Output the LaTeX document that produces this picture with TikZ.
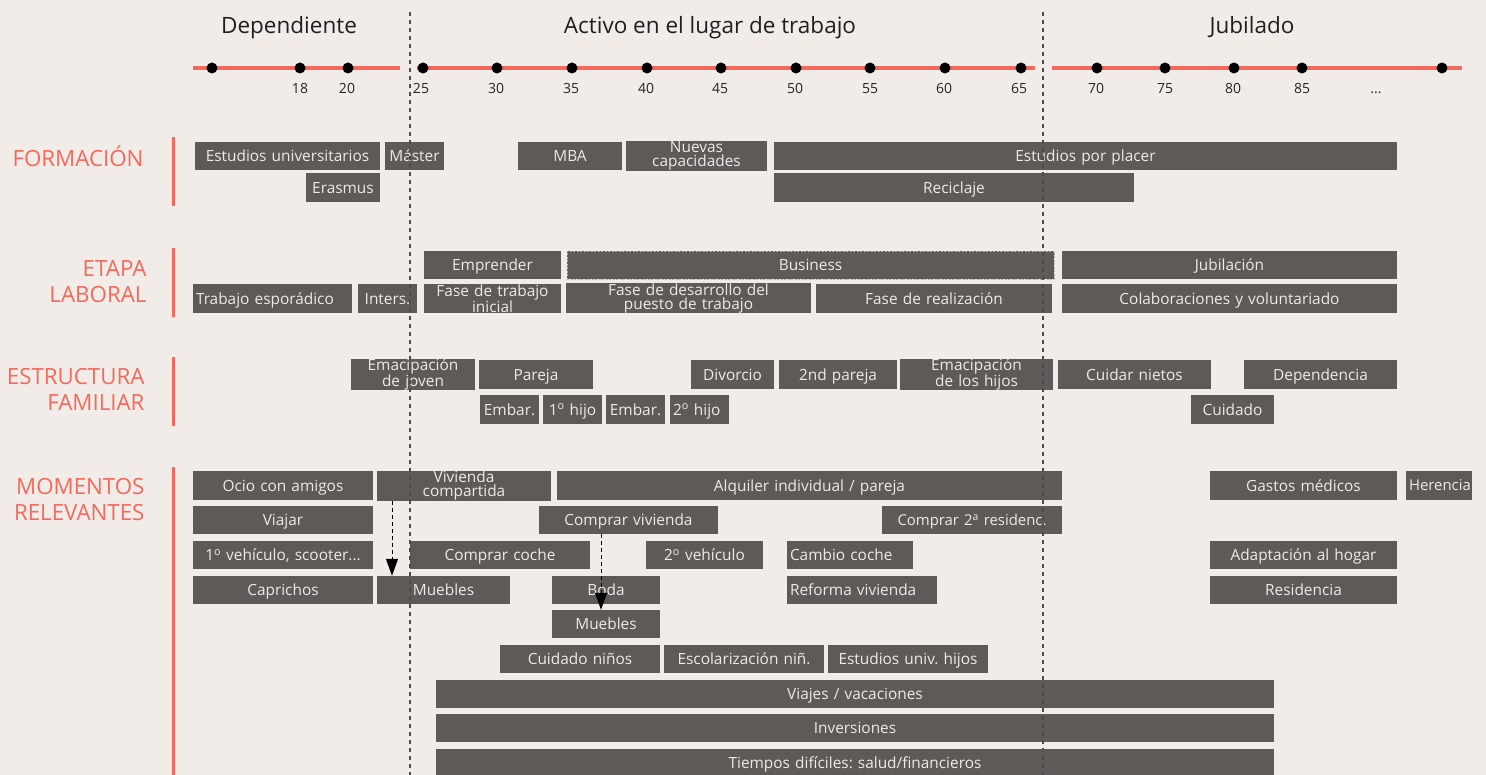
\documentclass[tikz,border=0pt]{standalone}
\usepackage{fontspec}
\setmainfont{Open Sans}
\usetikzlibrary{arrows.meta}
\definecolor{bg}{HTML}{F1ECE8}
\definecolor{boxc}{HTML}{5E5A58}
\definecolor{salmon}{HTML}{F4695B}
\definecolor{boxtxt}{HTML}{EFEAE6}
\frenchspacing
% raised ordinal letter
\newcommand\ordl[1]{\textsuperscript{#1}}
% single-line box: name, x1, y1, x2, y2, text
\newcommand\bx[7][]{%
  \pgfmathsetmacro\bxw{#5-#3-6}\pgfmathsetmacro\bxh{#6-#4}%
  \node[box,text width=\bxw pt,minimum height=\bxh pt,#1] (#2) at ({(#3+#5)/2},{(#4+#6)/2})
    {\raisebox{0pt}[0.72em][0pt]{\mbox{#7}}};}
% two-line box
\newcommand\bxm[7][]{%
  \pgfmathsetmacro\bxw{#5-#3-6}\pgfmathsetmacro\bxh{#6-#4}%
  \node[box,text width=\bxw pt,minimum height=\bxh pt,#1] (#2) at ({(#3+#5)/2},{(#4+#6)/2}) {#7};}
\begin{document}
\begin{tikzpicture}[x=1pt,y=-1pt,
  box/.style={fill=boxc,text=boxtxt,inner xsep=3pt,inner ysep=0pt,align=center,
    font=\fontsize{15.4}{14.6}\selectfont},
  tight/.style={font=\fontsize{14.9}{14.6}\selectfont},
  yr/.style={font=\fontsize{14}{14}\selectfont,text=black!85,anchor=base},
  hd/.style={font=\fontsize{22.5}{22.5}\selectfont,text=black!88,anchor=base},
  sec/.style={font=\fontsize{22.3}{26}\selectfont,text=salmon,align=right,anchor=east},
  dot/.style={circle,fill=black,inner sep=0pt,minimum size=11pt},
  tl/.style={salmon,line width=4pt},
  bar/.style={salmon,line width=3pt},
  sep/.style={black!70,line width=1.3pt,dash pattern=on 4pt off 4pt},
  link/.style={black,line width=1pt,dash pattern=on 4pt off 3pt,-{Triangle[width=12pt,length=17pt]}}]
\fill[bg] (0,0) rectangle (1486,775);
\useasboundingbox (0,0) rectangle (1486,775);

% phase headings
\node[hd] (hdep) at (289,34) {Dependiente};
\node[hd] (hact) at (710,34) {Activo en el lugar de trabajo};
\node[hd] (hjub) at (1252,34) {Jubilado};

% age axis
\coordinate (s1a) at (193,68); \coordinate (s1b) at (400,68);
\coordinate (s2a) at (417,68); \coordinate (s2b) at (1035,68);
\coordinate (s3a) at (1052,68); \coordinate (s3b) at (1462,68);
\draw[tl] (s1a) -- (s1b);
\draw[tl] (s2a) -- (s2b);
\draw[tl] (s3a) -- (s3b);
\foreach \n/\x in {d0/212,d18/300,d20/348,d25/423,d30/497,d35/572,d40/647,d45/721,
  d50/796,d55/870,d60/945,d65/1021,d70/1097,d75/1165,d80/1234,d85/1302,dend/1442}
  \node[dot] (\n) at (\x,68) {};
\foreach \n/\x/\t in {y18/300/18,y20/347/20,y25/421/25,y30/496/30,y35/571/35,y40/646/40,
  y45/720/45,y50/795/50,y55/870/55,y60/944/60,y65/1019/65,y70/1096/70,y75/1165/75,
  y80/1233/80,y85/1302/85}
  \node[yr] (\n) at (\x,94) {\t};
\node[yr] (ydots) at (1376,94) {...};

% section titles and bars
\node[sec] (sform) at (147,156) {FORMACIÓN};
\node[sec] (setap) at (150,282) {ETAPA\\LABORAL};
\node[sec] (sestr) at (148,389) {ESTRUCTURA\\FAMILIAR};
\node[sec] (smom) at (148,500) {MOMENTOS\\RELEVANTES};
\coordinate (b1a) at (173,137); \coordinate (b1b) at (173,206);
\coordinate (b2a) at (173,248); \coordinate (b2b) at (173,317);
\coordinate (b3a) at (173,357); \coordinate (b3b) at (173,426);
\coordinate (b4a) at (173,467); \coordinate (b4b) at (173,775);
\draw[bar] (b1a) -- (b1b);
\draw[bar] (b2a) -- (b2b);
\draw[bar] (b3a) -- (b3b);
\draw[bar] (b4a) -- (b4b);

% formación
\bx{eu}{195}{142}{380}{170}{Estudios universitarios}
\bx{mas}{385}{142}{444}{170}{Máster}
\bx{mba}{518}{142}{622}{170}{MBA}
\bxm{nc}{626}{142}{767}{170}{Nuevas\\capacidades}
\bx{epp}{774}{142}{1397}{170}{Estudios por placer}
\bx{era}{306}{173}{380}{202}{Erasmus}
\bx{rec}{774}{173}{1134}{202}{Reciclaje}

% etapa laboral
\bx{emp}{424}{251}{561}{279}{Emprender}
\bx[draw=black!30,line width=0.8pt,dash pattern=on 2pt off 1.5pt]{bus}{567}{251}{1054}{279}{Business}
\bx{jub}{1062}{251}{1397}{279}{Jubilación}
\bx[align=left]{tes}{193}{284}{352}{313}{Trabajo esporádico}
\bx{int}{358}{284}{417}{313}{Inters.}
\bxm{fti}{424}{284}{561}{313}{Fase de trabajo\\inicial}
\bxm{fdp}{566}{284}{811}{313}{Fase de desarrollo del\\puesto de trabajo}
\bx{fre}{816}{284}{1052}{313}{Fase de realización}
\bx{col}{1062}{284}{1397}{313}{Colaboraciones y voluntariado}

% estructura familiar
\bxm{emj}{351}{360}{475}{389}{Emacipación\\de joven}
\bx{par}{479}{360}{593}{389}{Pareja}
\bx{div}{691}{360}{774}{389}{Divorcio}
\bx{sp}{779}{360}{897}{389}{2nd pareja}
\bxm{emh}{900}{360}{1053}{389}{Emacipación\\de los hijos}
\bx{cn}{1058}{360}{1211}{389}{Cuidar nietos}
\bx{dep}{1244}{360}{1397}{389}{Dependencia}
\bx{em1}{480}{395}{539}{424}{Embar.}
\bx{h1}{543}{395}{602}{424}{1\ordl{o} hijo}
\bx{em2}{606}{395}{665}{424}{Embar.}
\bx[align=left]{h2}{670}{395}{729}{424}{2\ordl{o} hijo}
\bx{cui}{1191}{395}{1274}{424}{Cuidado}

% momentos relevantes
\bx{oc}{193}{471}{373}{500}{Ocio con amigos}
\bxm{vc}{377}{471}{551}{500}{Vivienda\\compartida}
\bx{alq}{557}{471}{1062}{500}{Alquiler individual / pareja}
\bx{gm}{1210}{471}{1397}{500}{Gastos médicos}
\bx[tight]{her}{1406}{471}{1472}{500}{Herencia}
\bx{via}{193}{506}{373}{534}{Viajar}
\bx{cv}{539}{506}{718}{534}{Comprar vivienda}
\bx[tight]{c2r}{882}{506}{1062}{534}{Comprar 2\ordl{a} residenc.}
\bx{v1}{193}{541}{373}{569}{1\ordl{o} vehículo, scooter...}
\bx{cc}{410}{541}{590}{569}{Comprar coche}
\bx{v2}{646}{541}{763}{569}{2\ordl{o} vehículo}
\bx[align=left]{cam}{787}{541}{913}{569}{Cambio coche}
\bx{ada}{1210}{541}{1397}{569}{Adaptación al hogar}
\bx{cap}{193}{576}{373}{604}{Caprichos}
\bx{mb1}{377}{576}{510}{604}{Muebles}
\bx{bod}{552}{576}{660}{604}{Boda}
\bx[align=left]{ref}{787}{576}{937}{604}{Reforma vivienda}
\bx{res}{1210}{576}{1397}{604}{Residencia}
\bx{mb2}{552}{610}{660}{638}{Muebles}
\bx{cni}{500}{645}{660}{673}{Cuidado niños}
\bx{esc}{664}{645}{824}{673}{Escolarización niñ.}
\bx{euh}{828}{645}{988}{673}{Estudios univ. hijos}
\bx{vv}{436}{680}{1274}{708}{Viajes / vacaciones}
\bx{inv}{436}{714}{1274}{742}{Inversiones}
\bx{tdf}{436}{749}{1274}{777}{Tiempos difíciles: salud/financieros}

% dependencies between moments
\coordinate (ax1) at (392,0);
\coordinate (ax2) at (601,0);
\draw[link] (vc.south -| ax1) -- (mb1.north -| ax1);
\draw[link] (cv.south -| ax2) -- (mb2.north -| ax2);

% phase separators
\coordinate (p1a) at (410,12); \coordinate (p1b) at (410,775);
\coordinate (p2a) at (1043,12); \coordinate (p2b) at (1043,775);
\draw[sep] (p1a) -- (p1b);
\draw[sep] (p2a) -- (p2b);
\end{tikzpicture}
\end{document}
